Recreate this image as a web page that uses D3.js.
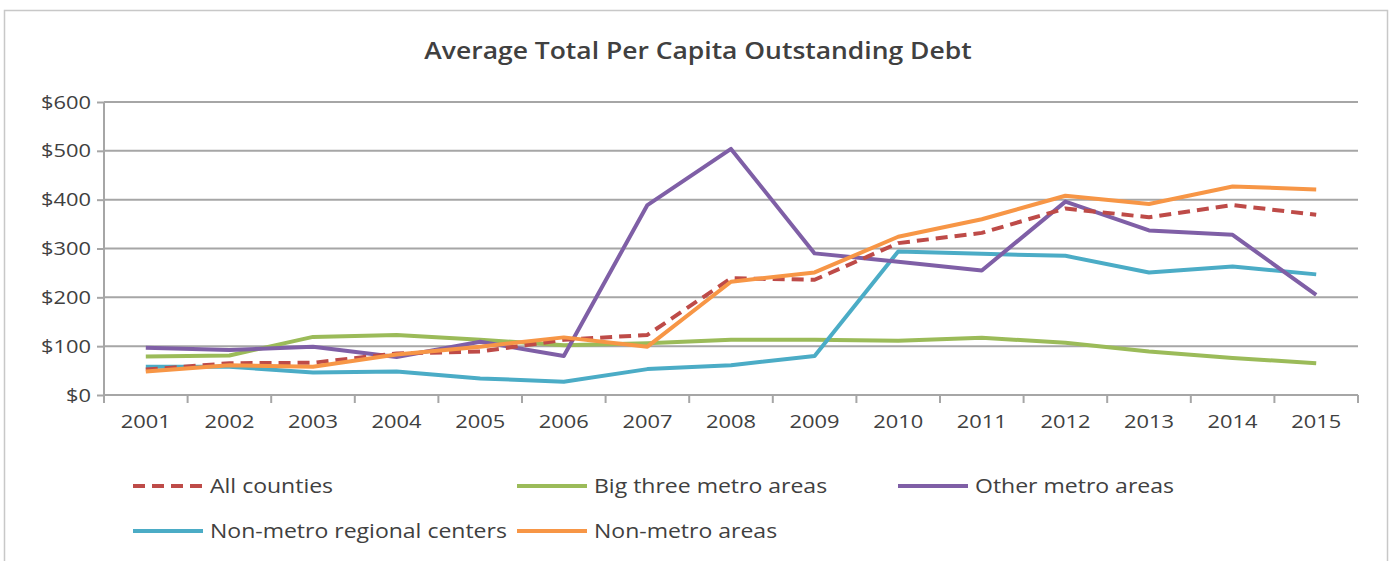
<!DOCTYPE html>
<html>
<head>
<meta charset="utf-8">
<script src="https://cdn.jsdelivr.net/npm/d3@7"></script>
<style>
  body { margin: 0; background: #fff; }
  svg { font-family: "Open Sans", sans-serif; }
</style>
</head>
<body>
<svg id="chart"></svg>
<script>
// Data
const years = ["2001","2002","2003","2004","2005","2006","2007","2008","2009","2010","2011","2012","2013","2014","2015"];
const allCounties   = [52, 65, 66, 85, 89, 113, 123, 239, 236, 311, 332, 382, 364, 389, 369];
const bigThree      = [79, 81, 119, 123, 113, 102, 106, 113, 113, 111, 117, 107, 89, 76, 65];
const otherMetro    = [97, 92, 99, 78, 109, 80, 389, 504, 290, 273, 255, 396, 337, 328, 205];
const regionalCtrs  = [58, 58, 46, 48, 34, 27, 53, 61, 80, 294, 289, 285, 251, 263, 247];
const nonMetro      = [48, 61, 58, 83, 99, 118, 99, 232, 251, 324, 360, 408, 391, 427, 421];
const yTicks = [0, 100, 200, 300, 400, 500, 600];

const series = [
  { name: "All counties", values: allCounties, color: "#be4b48", dash: "12,7" },
  { name: "Big three metro areas", values: bigThree, color: "#9bbb59", dash: null },
  { name: "Other metro areas", values: otherMetro, color: "#7f5fa6", dash: null },
  { name: "Non-metro regional centers", values: regionalCtrs, color: "#4bacc6", dash: null },
  { name: "Non-metro areas", values: nonMetro, color: "#f79646", dash: null }
];

const width = 1390, height = 561;
const margin = { left: 104, right: 32, top: 102, bottom: 166 };
// the original text is a bit wider than Open Sans, stretch it horizontally
const stretch = 1.15;

const svg = d3.select("#chart")
  .attr("width", width)
  .attr("height", height);

// chart frame
svg.append("rect")
  .attr("x", 4.5).attr("y", 10.5)
  .attr("width", 1383).attr("height", 560)
  .attr("fill", "#fff")
  .attr("stroke", "#c8c8c8")
  .attr("stroke-width", 1.5);

// title
svg.append("text")
  .attr("x", 698).attr("y", 59)
  .attr("text-anchor", "middle")
  .attr("font-size", 23)
  .attr("font-weight", 600)
  .attr("fill", "#404040")
  .text("Average Total Per Capita Outstanding Debt");

const x = d3.scaleBand()
  .domain(years)
  .range([margin.left, width - margin.right]);

const y = d3.scaleLinear()
  .domain([0, 600])
  .range([height - margin.bottom, margin.top]);

// gridlines
svg.append("g")
  .selectAll("line")
  .data(yTicks.filter(d => d > 0))
  .join("line")
  .attr("x1", margin.left).attr("x2", width - margin.right)
  .attr("y1", d => y(d)).attr("y2", d => y(d))
  .attr("stroke", "#a6a6a6")
  .attr("stroke-width", 2);

// y axis
const yAxis = svg.append("g")
  .attr("transform", `translate(${margin.left},0)`)
  .call(d3.axisLeft(y).tickValues(yTicks).tickSize(7).tickPadding(6)
    .tickFormat(d => "$" + d));
yAxis.selectAll("path, line").attr("stroke", "#a6a6a6").attr("stroke-width", 2);
yAxis.select(".domain").attr("d", `M0,${y(0)}V${y(600)}`);
yAxis.selectAll("text")
  .attr("font-size", 19)
  .attr("fill", "#404040")
  .attr("font-family", "Open Sans, sans-serif");

// x axis
const xAxis = svg.append("g")
  .attr("transform", `translate(0,${y(0)})`)
  .call(d3.axisBottom(x).tickSize(0).tickPadding(20));
xAxis.select(".domain").attr("stroke", "#a6a6a6").attr("stroke-width", 2)
  .attr("d", `M${margin.left},0H${width - margin.right}`);
xAxis.selectAll("text")
  .attr("font-size", 19)
  .attr("fill", "#404040")
  .attr("font-family", "Open Sans, sans-serif");
// tick marks between categories
const bounds = years.map(d => x(d)).concat([x(years[years.length - 1]) + x.bandwidth()]);
xAxis.append("g")
  .selectAll("line")
  .data(bounds)
  .join("line")
  .attr("x1", d => d).attr("x2", d => d)
  .attr("y1", 0).attr("y2", 8)
  .attr("stroke", "#a6a6a6")
  .attr("stroke-width", 2);

// lines
const line = d3.line()
  .x((d, i) => x(years[i]) + x.bandwidth() / 2)
  .y(d => y(d));

const drawOrder = [1, 3, 2, 0, 4];
svg.append("g")
  .selectAll("path")
  .data(drawOrder.map(i => series[i]))
  .join("path")
  .attr("d", d => line(d.values))
  .attr("fill", "none")
  .attr("stroke", d => d.color)
  .attr("stroke-width", 4)
  .attr("stroke-linejoin", "round")
  .attr("stroke-dasharray", d => d.dash);

// legend
const legendPos = [
  { x: 133, y: 486 },
  { x: 517, y: 486 },
  { x: 898, y: 486 },
  { x: 133, y: 531 },
  { x: 517, y: 531 }
];
const legend = svg.append("g")
  .selectAll("g")
  .data(series)
  .join("g")
  .attr("transform", (d, i) => `translate(${legendPos[i].x},${legendPos[i].y})`);

legend.append("line")
  .attr("x1", 0).attr("x2", 70)
  .attr("y1", 0).attr("y2", 0)
  .attr("stroke", d => d.color)
  .attr("stroke-width", 4)
  .attr("stroke-dasharray", d => d.dash);

legend.append("text")
  .attr("x", 77).attr("y", 0)
  .attr("dy", "0.35em")
  .attr("font-size", 20)
  .attr("fill", "#404040")
  .text(d => d.name);

// widen every label a little
svg.selectAll("text").each(function () {
  const len = this.getComputedTextLength();
  d3.select(this)
    .attr("textLength", len * stretch)
    .attr("lengthAdjust", "spacingAndGlyphs");
});
</script>
</body>
</html>
